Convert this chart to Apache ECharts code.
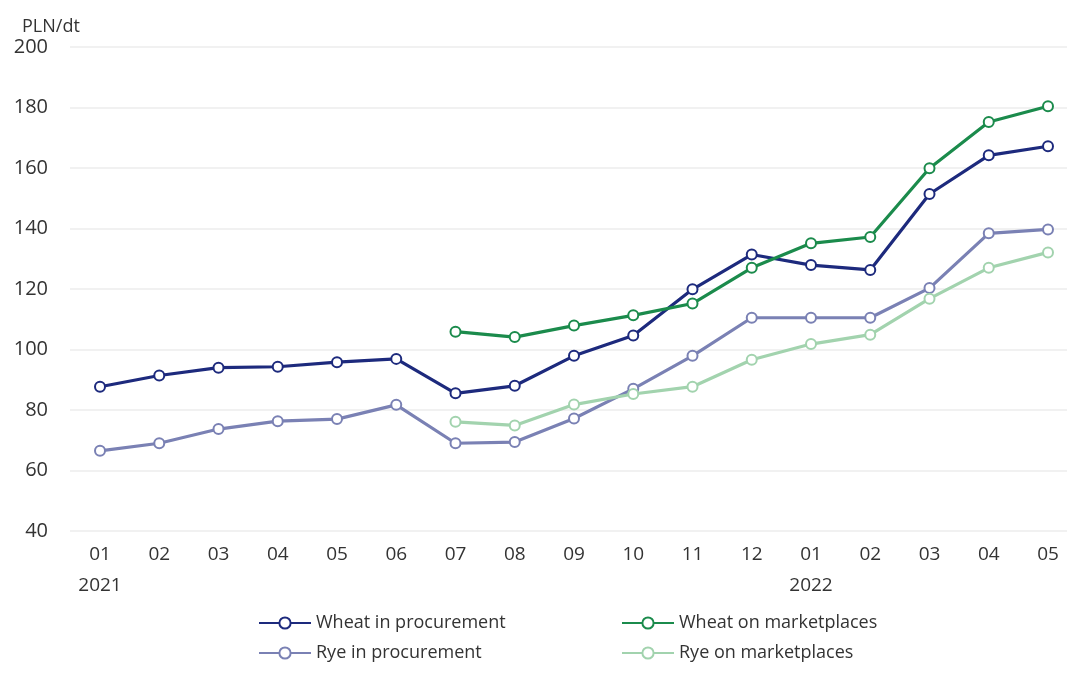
<!DOCTYPE html>
<html>
<head>
<meta charset="utf-8">
<script src="https://cdn.jsdelivr.net/npm/echarts@6/dist/echarts.min.js"></script>
<style>html,body{margin:0;padding:0;background:#fff}#c{width:1067px;height:678px}</style>
</head>
<body>
<div id="c"></div>
<script>
const months = ['01','02','03','04','05','06','07','08','09','10','11','12','01','02','03','04','05'];
const years  = ['2021','','','','','','','','','','','','2022','','','',''];
const wheatProcurement = [87.7, 91.4, 94.0, 94.3, 95.8, 96.9, 85.5, 88.0, 97.9, 104.6, 119.9, 131.4, 127.9, 126.3, 151.4, 164.2, 167.2];
const wheatMarket      = [null, null, null, null, null, null, 105.9, 104.1, 107.9, 111.3, 115.2, 127.0, 135.1, 137.2, 159.9, 175.2, 180.4];
const ryeProcurement   = [66.5, 69.0, 73.7, 76.3, 77.0, 81.7, 69.0, 69.4, 77.2, 87.0, 97.9, 110.5, 110.5, 110.5, 120.3, 138.4, 139.7];
const ryeMarket        = [null, null, null, null, null, null, 76.1, 74.9, 81.8, 85.3, 87.7, 96.6, 101.8, 104.9, 116.8, 127.0, 132.1];
const yTicks = {min: 40, max: 200, interval: 20};
const unitLabel = 'PLN/dt';
const names = ['Wheat in procurement', 'Wheat on marketplaces', 'Rye in procurement', 'Rye on marketplaces'];
const colors = ['#1d2a7d', '#1b8b4c', '#7a81b4', '#a2d3ae'];

const catLabels = months.map((m, i) => years[i] ? m + '\n' + years[i] : m);
const font = 'Open Sans';

function mk(name, data, color) {
  return {
    name, type: 'line', data, color,
    xAxisIndex: 0, yAxisIndex: 0,
    symbol: 'emptyCircle', symbolSize: 10,
    lineStyle: {width: 3.2, color},
    itemStyle: {color, borderWidth: 2.8, borderColor: color},
    emphasis: {disabled: true},
    connectNulls: false
  };
}

const chart = echarts.init(document.getElementById('c'));
chart.setOption({
  animation: false,
  backgroundColor: '#fff',
  title: {text: unitLabel, left: 17, top: 13, textStyle: {fontFamily: font, fontSize: 18, fontWeight: 'normal', color: '#333'}},
  grid: [
    {left: 100, top: 47, right: 19, height: 484, containLabel: false},
    {left: 70, top: 47, right: 0, height: 484, containLabel: false, z: 0}
  ],
  xAxis: [
    {
      type: 'category', data: catLabels, boundaryGap: false, gridIndex: 0,
      axisLine: {show: false}, axisTick: {show: false}, splitLine: {show: false},
      axisLabel: {fontFamily: font, fontSize: 19, color: '#333', margin: 8, lineHeight: 31, interval: 0}
    },
    {type: 'value', gridIndex: 1, show: false, min: 0, max: 1}
  ],
  yAxis: [
    {
      type: 'value', gridIndex: 0, min: yTicks.min, max: yTicks.max, interval: yTicks.interval,
      axisLine: {show: false}, axisTick: {show: false}, splitLine: {show: false},
      axisLabel: {fontFamily: font, fontSize: 20, color: '#333', margin: 52}
    },
    {
      type: 'value', gridIndex: 1, min: yTicks.min, max: yTicks.max, interval: yTicks.interval,
      axisLine: {show: false}, axisTick: {show: false}, axisLabel: {show: false},
      splitLine: {lineStyle: {color: '#ececec', width: 1.5}}
    }
  ],
  legend: [
    {data: [names[0], names[2]], orient: 'vertical', left: 253, top: 609, itemWidth: 52, itemHeight: 14, itemGap: 12,
     textStyle: {fontFamily: font, fontSize: 18, color: '#333'}},
    {data: [names[1], names[3]], orient: 'vertical', left: 616, top: 609, itemWidth: 52, itemHeight: 14, itemGap: 12,
     textStyle: {fontFamily: font, fontSize: 18, color: '#333'}}
  ],
  series: [
    mk(names[0], wheatProcurement, colors[0]),
    mk(names[1], wheatMarket, colors[1]),
    mk(names[2], ryeProcurement, colors[2]),
    mk(names[3], ryeMarket, colors[3])
  ]
});
</script>
</body>
</html>
